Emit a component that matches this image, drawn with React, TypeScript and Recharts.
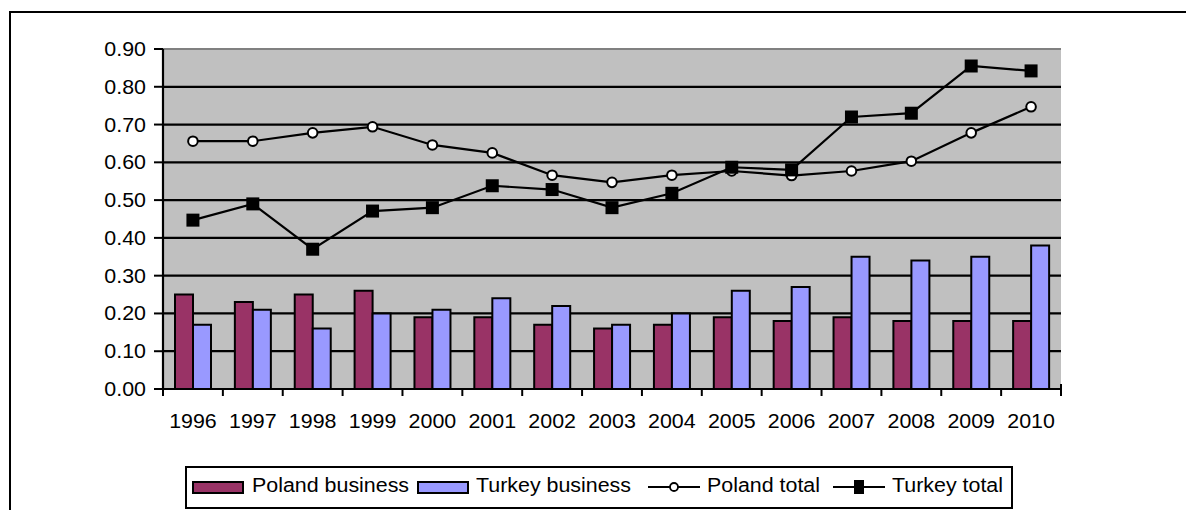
import React from 'react';
import { ComposedChart, Bar, Line, XAxis, YAxis, CartesianGrid, ReferenceLine, Rectangle } from 'recharts';

const years = ['1996', '1997', '1998', '1999', '2000', '2001', '2002', '2003', '2004', '2005', '2006', '2007', '2008', '2009', '2010'];
const polandBusiness = [0.25, 0.23, 0.25, 0.26, 0.19, 0.19, 0.17, 0.16, 0.17, 0.19, 0.18, 0.19, 0.18, 0.18, 0.18];
const turkeyBusiness = [0.17, 0.21, 0.16, 0.2, 0.21, 0.24, 0.22, 0.17, 0.2, 0.26, 0.27, 0.35, 0.34, 0.35, 0.38];
const polandTotal = [0.656, 0.656, 0.678, 0.694, 0.646, 0.625, 0.566, 0.547, 0.566, 0.577, 0.565, 0.577, 0.603, 0.678, 0.747];
const turkeyTotal = [0.447, 0.49, 0.37, 0.471, 0.48, 0.538, 0.528, 0.48, 0.518, 0.587, 0.58, 0.72, 0.73, 0.855, 0.842];
const yTicks = [0, 0.1, 0.2, 0.3, 0.4, 0.5, 0.6, 0.7, 0.8, 0.9];

const seriesNames = ['Poland business', 'Turkey business', 'Poland total', 'Turkey total'];

const data = years.map((year, i) => ({
  year,
  polandBusiness: polandBusiness[i],
  turkeyBusiness: turkeyBusiness[i],
  polandTotal: polandTotal[i],
  turkeyTotal: turkeyTotal[i],
}));

const W = 1186;
const H = 510;
const MARGIN = { top: 49, right: 125, left: 100, bottom: 81 };
const Y_AXIS_W = 63;
const PLOT_W = W - MARGIN.left - MARGIN.right - Y_AXIS_W;
const FONT = '"Liberation Sans", Arial, sans-serif';
const SX = 1.07;

const XTick = (props: any) => {
  const { x, y, payload, index } = props;
  const bw = PLOT_W / years.length;
  const last = index === years.length - 1;
  return (
    <g>
      <line x1={x - bw / 2} y1={y - 1} x2={x - bw / 2} y2={y + 7} stroke="#000" strokeWidth={2} />
      {last && <line x1={x + bw / 2} y1={y - 5} x2={x + bw / 2} y2={y + 7} stroke="#000" strokeWidth={2} />}
      <text
        transform={`translate(${x} ${y + 38.5}) scale(${SX} 1)`}
        x={0}
        y={0}
        textAnchor="middle"
        fontSize={20}
        fontFamily={FONT}
        fill="#000"
      >
        {payload.value}
      </text>
    </g>
  );
};

const YTick = (props: any) => {
  const { x, y, payload } = props;
  return (
    <text
      transform={`translate(${x} ${y + 7}) scale(${SX} 1)`}
      x={0}
      y={0}
      textAnchor="end"
      fontSize={20}
      fontFamily={FONT}
      fill="#000"
    >
      {Number(payload.value).toFixed(2)}
    </text>
  );
};

const BarShape = (props: any) => {
  const { x, y, width, height, fill } = props;
  if (x == null || y == null || !width || !height) return null;
  return <Rectangle x={x} y={y} width={width} height={height} fill={fill} stroke="#000" strokeWidth={2} />;
};

const CircleDot = (props: any) => {
  const { cx, cy } = props;
  if (cx == null || cy == null) return null;
  return <circle cx={cx} cy={cy} r={4.8} fill="#fff" stroke="#000" strokeWidth={2} />;
};

const SquareDot = (props: any) => {
  const { cx, cy } = props;
  if (cx == null || cy == null) return null;
  return <rect x={cx - 6.5} y={cy - 6.5} width={13} height={13} fill="#000" />;
};

const legendText: React.CSSProperties = {
  position: 'absolute',
  top: 473,
  fontSize: 20,
  lineHeight: '24px',
  fontFamily: FONT,
  color: '#000',
  transform: `scaleX(${SX})`,
  transformOrigin: 'left center',
  whiteSpace: 'nowrap',
};

const Swatch = ({ left, color }: { left: number; color: string }) => (
  <div
    style={{
      position: 'absolute',
      left,
      top: 481,
      width: 52,
      height: 13,
      background: color,
      border: '2px solid #000',
      boxSizing: 'border-box',
    }}
  />
);

const LineIcon = ({ left, kind }: { left: number; kind: 'circle' | 'square' }) => (
  <svg style={{ position: 'absolute', left, top: 477 }} width={54} height={20}>
    <line x1={1} y1={10} x2={53} y2={10} stroke="#000" strokeWidth={2} />
    {kind === 'circle' ? (
      <circle cx={27} cy={10} r={4} fill="#fff" stroke="#000" strokeWidth={1.8} />
    ) : (
      <rect x={22} y={3} width={10} height={14} fill="#000" />
    )}
  </svg>
);

export default function App() {
  return (
    <div style={{ position: 'absolute', left: 0, top: 0, width: W, height: H, overflow: 'hidden', background: '#fff' }}>
      <div
        style={{
          position: 'absolute',
          left: 8.5,
          top: 11,
          width: 1400,
          height: 700,
          border: '2px solid #000',
        }}
      />
      <div style={{ position: 'absolute', left: 0, top: 0 }}>
        <ComposedChart width={W} height={H} data={data} margin={MARGIN} barGap={0}>
          <CartesianGrid horizontal vertical={false} stroke="#000" strokeWidth={2.2} fill="#C0C0C0" fillOpacity={1} />
          <XAxis
            dataKey="year"
            interval={0}
            tickLine={false}
            tickSize={0}
            tickMargin={0}
            height={40}
            axisLine={{ stroke: '#000', strokeWidth: 2.2 }}
            tick={<XTick />}
          />
          <YAxis
            domain={[0, 0.9]}
            ticks={yTicks}
            width={Y_AXIS_W}
            tickSize={9}
            tickMargin={8}
            interval={0}
            tickLine={{ stroke: '#000', strokeWidth: 2 }}
            axisLine={{ stroke: '#000', strokeWidth: 2.2 }}
            tick={<YTick />}
          />
          <YAxis
            yAxisId="edge"
            orientation="right"
            width={0}
            domain={[0, 1]}
            ticks={[]}
            tick={false}
            tickLine={false}
            axisLine={{ stroke: '#808080', strokeWidth: 2 }}
          />
          <ReferenceLine y={0.9} stroke="#808080" strokeWidth={2.2} />
          <Bar
            dataKey="polandBusiness"
            name={seriesNames[0]}
            fill="#993366"
            barSize={18}
            shape={BarShape}
            isAnimationActive={false}
          />
          <Bar
            dataKey="turkeyBusiness"
            name={seriesNames[1]}
            fill="#9999FF"
            barSize={18}
            shape={BarShape}
            isAnimationActive={false}
          />
          <Line
            dataKey="polandTotal"
            name={seriesNames[2]}
            stroke="#000"
            strokeWidth={2.2}
            dot={<CircleDot />}
            activeDot={false}
            isAnimationActive={false}
          />
          <Line
            dataKey="turkeyTotal"
            name={seriesNames[3]}
            stroke="#000"
            strokeWidth={2.2}
            dot={<SquareDot />}
            activeDot={false}
            isAnimationActive={false}
          />
        </ComposedChart>
      </div>
      <div
        style={{
          position: 'absolute',
          left: 185,
          top: 466,
          width: 828,
          height: 43,
          border: '2px solid #000',
          boxSizing: 'border-box',
        }}
      />
      <Swatch left={192} color="#993366" />
      <div style={{ ...legendText, left: 252 }}>{seriesNames[0]}</div>
      <Swatch left={417} color="#9999FF" />
      <div style={{ ...legendText, left: 476 }}>{seriesNames[1]}</div>
      <LineIcon left={647} kind="circle" />
      <div style={{ ...legendText, left: 707 }}>{seriesNames[2]}</div>
      <LineIcon left={832} kind="square" />
      <div style={{ ...legendText, left: 892 }}>{seriesNames[3]}</div>
    </div>
  );
}
